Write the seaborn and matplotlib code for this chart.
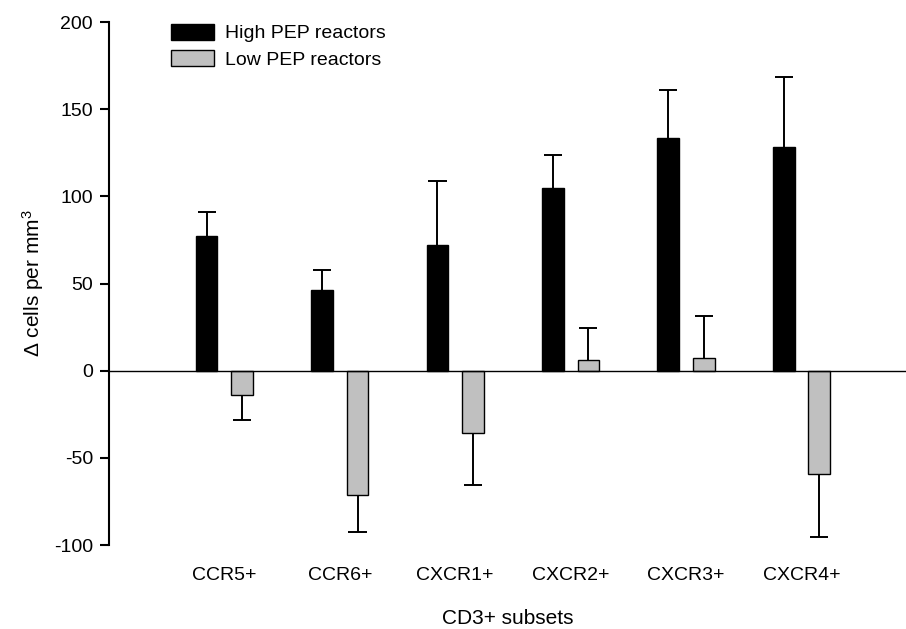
import matplotlib
matplotlib.use('Agg')
import matplotlib.pyplot as plt
import seaborn as sns
import pandas as pd
import numpy as np

# values
subsets = ['CCR5+', 'CCR6+', 'CXCR1+', 'CXCR2+', 'CXCR3+', 'CXCR4+']
high_vals = [77, 46, 72, 105, 133.5, 128.5]
high_err = [14, 11.5, 37, 19, 27.5, 40]
low_vals = [-14, -71.5, -36, 6, 7, -59.5]
low_err = [14.5, 21, 29.5, 18.5, 24.5, 36]
groups = ['High PEP reactors', 'Low PEP reactors']

sns.set_theme(style='white')
plt.rcParams['font.family'] = ['Liberation Sans', 'DejaVu Sans']
plt.rcParams['mathtext.fontset'] = 'custom'
plt.rcParams['mathtext.rm'] = 'Liberation Sans'
plt.rcParams['mathtext.default'] = 'regular'
plt.rcParams['axes.unicode_minus'] = False
plt.rcParams['text.color'] = 'black'
plt.rcParams['axes.labelcolor'] = 'black'
plt.rcParams['xtick.color'] = 'black'
plt.rcParams['ytick.color'] = 'black'

df = pd.DataFrame({
    'subset': subsets * 2,
    'delta': high_vals + low_vals,
    'group': [groups[0]] * len(subsets) + [groups[1]] * len(subsets),
})

fig = plt.figure(figsize=(9.06, 6.29), dpi=100)
ax = fig.add_axes([0.1203, 0.1335, 0.8797, 0.8315])

sns.barplot(data=df, x='subset', y='delta', hue='group', order=subsets,
            hue_order=groups, palette=['black', '#c0c0c0'], edgecolor='black',
            linewidth=1, width=0.615, gap=0.39, errorbar=None, ax=ax, zorder=2)

# one-sided error bars, outward from each bar (cap only at the far end)
for cont, vals, errs in zip(ax.containers, [high_vals, low_vals], [high_err, low_err]):
    xs = np.array([p.get_x() + p.get_width() / 2 for p in cont.patches])
    half = cont.patches[0].get_width() * 0.42
    vals = np.array(vals)
    ends = vals + np.sign(vals) * np.array(errs)
    ax.vlines(xs, vals, ends, color='black', lw=1.4, zorder=1)
    ax.hlines(ends, xs - half, xs + half, color='black', lw=1.4, zorder=1)

ax.axhline(0, color='black', lw=1, zorder=3)

ax.set_ylim(-100, 200)
ax.set_xlim(-1.0, 5.906)
ax.set_yticks([-100, -50, 0, 50, 100, 150, 200])

for s in ['top', 'right', 'bottom']:
    ax.spines[s].set_visible(False)
ax.spines['left'].set_color('black')
ax.spines['left'].set_linewidth(1.5)

ax.tick_params(axis='y', direction='out', length=6.5, width=1.5, color='black',
               labelsize=14, pad=5, left=True)
ax.tick_params(axis='x', length=0, labelsize=14, pad=16)

ax.set_xlabel('CD3+ subsets', fontsize=15, labelpad=18)
ax.set_ylabel(r'$\Delta$ cells per mm$^3$', fontsize=15, labelpad=6)

ax.legend(loc='upper left', bbox_to_anchor=(171 / 906, 1 - 24 / 629),
          bbox_transform=fig.transFigure, frameon=False, fontsize=14,
          handlelength=2.2, handleheight=0.85, handletextpad=0.6,
          labelspacing=0.4, borderpad=0, borderaxespad=0)

fig.savefig('out.png', dpi=100)
